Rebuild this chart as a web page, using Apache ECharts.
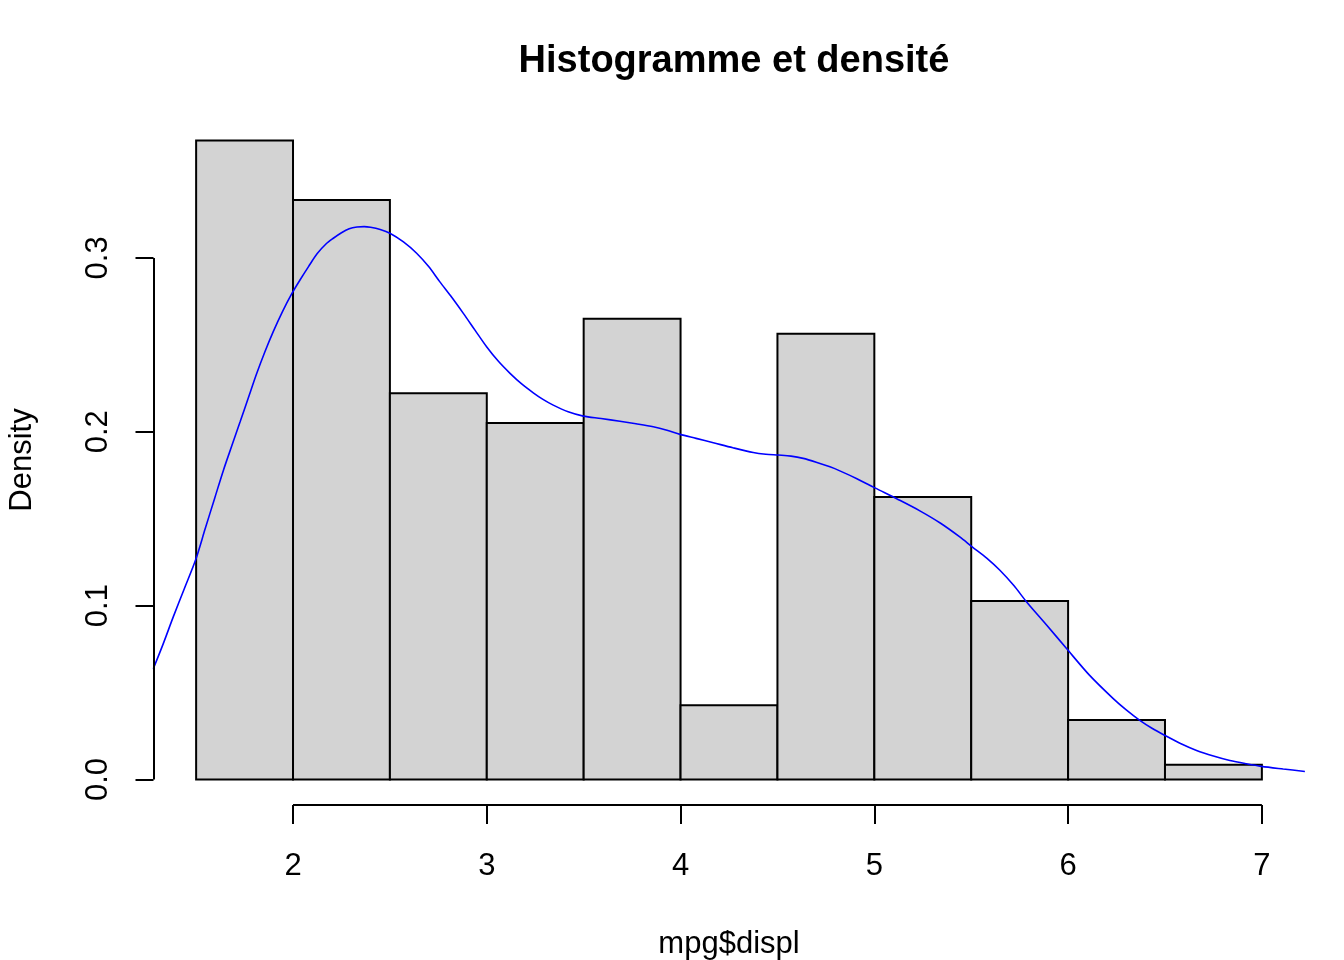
<!DOCTYPE html>
<html>
<head>
<meta charset="utf-8">
<script src="https://cdn.jsdelivr.net/npm/echarts@6/dist/echarts.min.js"></script>
<style>html,body{margin:0;padding:0;background:#fff;}#chart{width:1344px;height:960px;}</style>
</head>
<body>
<div id="chart"></div>
<script>
// Histogram bins (mpg$displ), breaks and densities
const binStarts = [1.5, 2.0, 2.5, 3.0, 3.5, 4.0, 4.5, 5.0, 5.5, 6.0, 6.5];
const binEnds   = [2.0, 2.5, 3.0, 3.5, 4.0, 4.5, 5.0, 5.5, 6.0, 6.5, 7.0];
const binDensity = [0.3675, 0.3333, 0.2222, 0.2051, 0.2650, 0.0427, 0.2564, 0.1624, 0.1026, 0.0342, 0.0085];

// Kernel density curve
const densX = [1.279, 1.330, 1.382, 1.440, 1.498, 1.547, 1.595, 1.641, 1.685, 1.727, 1.770, 1.813, 1.855, 1.898, 1.945, 1.993, 2.036, 2.080, 2.125, 2.170, 2.208, 2.250, 2.290, 2.330, 2.367, 2.400, 2.450, 2.500, 2.570, 2.638, 2.700, 2.758, 2.820, 2.879, 2.940, 2.999, 3.060, 3.120, 3.180, 3.240, 3.290, 3.343, 3.420, 3.498, 3.590, 3.687, 3.770, 3.859, 3.930, 3.997, 4.080, 4.169, 4.270, 4.375, 4.440, 4.504, 4.570, 4.633, 4.700, 4.771, 4.822, 4.910, 5.003, 5.120, 5.235, 5.340, 5.441, 5.505, 5.580, 5.648, 5.720, 5.786, 5.890, 5.992, 6.110, 6.233, 6.300, 6.370, 6.435, 6.500, 6.580, 6.663, 6.750, 6.835, 6.920, 6.998, 7.110, 7.222];
const densY = [0.0637, 0.0780, 0.0935, 0.1100, 0.1265, 0.1443, 0.1615, 0.1779, 0.1922, 0.2057, 0.2197, 0.2336, 0.2460, 0.2576, 0.2690, 0.2793, 0.2873, 0.2950, 0.3025, 0.3080, 0.3113, 0.3145, 0.3168, 0.3178, 0.3180, 0.3176, 0.3163, 0.3142, 0.3092, 0.3027, 0.2950, 0.2862, 0.2772, 0.2681, 0.2583, 0.2489, 0.2405, 0.2336, 0.2275, 0.2224, 0.2186, 0.2153, 0.2115, 0.2090, 0.2076, 0.2060, 0.2046, 0.2029, 0.2009, 0.1985, 0.1962, 0.1937, 0.1908, 0.1881, 0.1871, 0.1866, 0.1860, 0.1847, 0.1825, 0.1798, 0.1775, 0.1730, 0.1677, 0.1612, 0.1545, 0.1475, 0.1395, 0.1338, 0.1273, 0.1203, 0.1115, 0.1021, 0.0887, 0.0753, 0.0600, 0.0465, 0.0400, 0.0340, 0.0293, 0.0253, 0.0207, 0.0167, 0.0135, 0.0109, 0.0090, 0.0075, 0.0060, 0.0046];

// Tick labels
const xTicks = [2, 3, 4, 5, 6, 7];
const yTicks = [0.0, 0.1, 0.2, 0.3];

const xMin = 1.28, xMax = 7.22;
const yMin = -0.0147, yMax = 0.3822;

const chart = echarts.init(document.getElementById('chart'), null, {renderer: 'canvas'});
const FONT = 'Liberation Sans, Arial, sans-serif';

const barData = binStarts.map((s, i) => [s, binEnds[i], binDensity[i]]);
const lineData = densX.map((x, i) => [x, densY[i]]);

chart.setOption({
  animation: false,
  backgroundColor: '#ffffff',
  title: {
    text: 'Histogramme et densité',
    left: 729, top: 38, textAlign: 'center',
    textStyle: {fontFamily: FONT, fontSize: 38, fontWeight: 'bold', color: '#000'}
  },
  grid: {left: 153.5, right: 39.5, top: 115, bottom: 155, containLabel: false, outerBoundsMode: 'none'},
  xAxis: {
    type: 'value', min: xMin, max: xMax,
    name: 'mpg$displ', nameLocation: 'middle', nameGap: 124,
    nameTextStyle: {fontFamily: FONT, fontSize: 31, color: '#000'},
    axisLine: {show: false, onZero: false},
    splitLine: {show: false},
    axisTick: {show: true, inside: false, length: 19, customValues: xTicks, lineStyle: {color: '#000', width: 2}},
    axisLabel: {show: true, margin: 46, customValues: xTicks, fontFamily: FONT, fontSize: 31, color: '#000',
      formatter: v => String(v)}
  },
  yAxis: {
    type: 'value', min: yMin, max: yMax,
    name: 'Density', nameLocation: 'middle', nameGap: 116,
    nameTextStyle: {fontFamily: FONT, fontSize: 31, color: '#000'},
    axisLine: {show: false, onZero: false},
    splitLine: {show: false},
    axisTick: {show: true, inside: false, length: 18, customValues: yTicks, lineStyle: {color: '#000', width: 2}},
    axisLabel: {show: true, rotate: 90, margin: 40, customValues: yTicks, fontFamily: FONT, fontSize: 31, color: '#000',
      formatter: v => v.toFixed(1)}
  },
  series: [
    {
      type: 'custom',
      data: barData,
      encode: {x: [0, 1], y: 2},
      clip: false,
      renderItem: function (params, api) {
        const p0 = api.coord([api.value(0), 0]);
        const p1 = api.coord([api.value(1), api.value(2)]);
        return {
          type: 'rect',
          shape: {x: p0[0], y: p1[1], width: p1[0] - p0[0], height: p0[1] - p1[1]},
          style: {fill: '#D3D3D3', stroke: '#000', lineWidth: 2}
        };
      },
      markLine: {
        silent: true, symbol: 'none', animation: false,
        label: {show: false},
        lineStyle: {color: '#000', width: 2, type: 'solid'},
        data: [
          [{coord: [xTicks[0], yMin]}, {coord: [xTicks[xTicks.length - 1], yMin]}],
          [{coord: [xMin, yTicks[0]]}, {coord: [xMin, yTicks[yTicks.length - 1]]}]
        ]
      }
    },
    {
      type: 'line',
      data: lineData,
      smooth: 0.3,
      showSymbol: false,
      clip: true,
      lineStyle: {color: '#0000FF', width: 1.6}
    }
  ]
});
</script>
</body>
</html>
